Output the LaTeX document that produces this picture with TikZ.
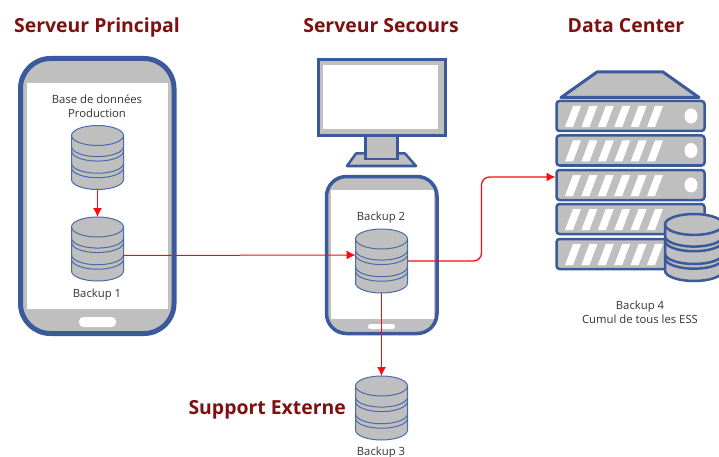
\documentclass[tikz,border=0pt]{standalone}
\usepackage{fontspec}
\setmainfont{Open Sans}
\usetikzlibrary{arrows.meta,calc}
\definecolor{frameblue}{HTML}{3A5A9B}
\definecolor{dbline}{HTML}{4A6AA8}
\definecolor{fillgray}{HTML}{BFBFBF}
\definecolor{titlered}{HTML}{7F1010}
\definecolor{linkred}{HTML}{FF0A14}
\definecolor{txt}{HTML}{333333}
\tikzset{
  x=1pt,y=-1pt,
  title/.style={font=\fontsize{19.4}{22}\selectfont\bfseries,text=titlered,inner sep=0pt,anchor=base},
  lbl/.style={font=\fontsize{11.3}{14}\selectfont,text=txt,inner sep=0pt,align=center,anchor=base},
  frame/.style={draw=frameblue,fill=fillgray},
  whitebox/.style={fill=white,draw=none},
  anchorbox/.style={minimum width=#1,inner sep=0pt,outer sep=0pt,draw=none},
  link/.style={draw=linkred,line width=1.3pt,-{Latex[length=9pt,width=9pt]}},
  rackunit/.style={frame,line width=2.5pt,rounded corners=3pt,minimum width=148pt,minimum height=30pt,inner sep=0pt,outer sep=1pt},
}
% #1 name, #2 centre x, #3 top y, #4 half width, #5 line width, #6 height, #7 colour
\newcommand{\dbcyl}[7]{%
  \begin{scope}[shift={(#2,#3)},line width=#5,draw=#7,fill=fillgray]
    \pgfmathsetmacro{\rw}{#4}\pgfmathsetmacro{\h}{#6}\pgfmathsetmacro{\ry}{\h*0.156}
    \filldraw (-\rw,\ry) -- (-\rw,\h-\ry) arc[start angle=180,end angle=360,x radius=\rw pt,y radius=\ry pt] -- (\rw,\ry) arc[start angle=0,end angle=180,x radius=\rw pt,y radius=\ry pt] -- cycle;
    \draw (-\rw,\ry) arc[start angle=180,end angle=360,x radius=\rw pt,y radius=\ry pt];
    \foreach \yy in {0.33,0.40,0.59,0.66}{
      \draw (-\rw,\h*\yy) arc[start angle=180,end angle=360,x radius=\rw pt,y radius=\ry pt];
    }
  \end{scope}
  \node[anchorbox=2*#4*1pt,minimum height=#6*1pt] (#1) at (#2,#3+#6/2) {};
}
\newcommand{\stripes}[1]{%
  \foreach \i in {0,...,5}{
    \fill[white] (565+16.4*\i,#1+26) -- (573+16.4*\i,#1+26) -- (581+16.4*\i,#1+5) -- (573+16.4*\i,#1+5) -- cycle;
  }
}
\begin{document}
\begin{tikzpicture}
\useasboundingbox (0,0) rectangle (719,457);
\clip (0,0) rectangle (719,457);
\fill[white] (0,0) rectangle (719,457);

% titles
\node[title] (t1) at (97,33) {Serveur Principal};
\node[title] (t2) at (381,33) {Serveur Secours};
\node[title] (t3) at (626,33) {Data Center};
\node[title,anchor=base east] (t4) at (346,414) {Support Externe};

% principal phone
\draw[frame,line width=5pt,rounded corners=30pt] (20.5,58.5) rectangle (174,333.5);
\fill[whitebox] (27,83) rectangle (168,309);
\fill[white,rounded corners=4.5pt] (79,317) rectangle (116,327);

% monitor
\draw[frame,line width=2.5pt,line join=round] (347,166) -- (356,153.5) -- (405,153.5) -- (416,166) -- cycle;
\draw[frame,line width=2.5pt] (365.5,135) rectangle (397.5,159);
\draw[frame,line width=3pt] (318.5,60) rectangle (445,135.5);
\fill[whitebox] (323,65) rectangle (438,129);

% secondary phone
\draw[frame,line width=3.5pt,rounded corners=20pt] (326.5,176.5) rectangle (437,333.5);
\fill[whitebox] (331,190) rectangle (434,319);
\fill[white,rounded corners=2.5pt] (368,324) rectangle (395,329);

% rack
\draw[frame,line width=3pt,line join=round] (561,97.5) -- (597,72) -- (663,72) -- (699,97.5) -- cycle;
\foreach \n/\yc in {r1/116,r2/150.5,r3/185,r4/219,r5/254}{
  \node[rackunit] (\n) at (630.5,\yc) {};
}
\foreach \t in {101,135.5,170,204,239}{\stripes{\t}}
\foreach \yc in {116,150.5,185}{\fill[white] (691,\yc) ellipse (6.5pt and 7.5pt);}

% databases
\dbcyl{db0}{97.5}{125.5}{26}{1pt}{64}{dbline}
\dbcyl{db1}{97.5}{217}{26}{1pt}{64}{dbline}
\dbcyl{db2}{381.5}{229}{26}{1pt}{64}{dbline}
\dbcyl{db3}{381.5}{376}{26}{1pt}{64}{dbline}
\dbcyl{db4}{694}{214}{29}{2.5pt}{67}{frameblue}

% labels
\node[lbl] (l0a) at (97,104) {Base de données};
\node[lbl] (l0b) at (97,118) {Production};
\node[lbl] (l1) at (97,297) {Backup 1};
\node[lbl] (l2) at (381,220) {Backup 2};
\node[lbl] (l3) at (381,455) {Backup 3};
\node[lbl] (l4a) at (640,309) {Backup 4};
\node[lbl] (l4b) at (640,323) {Cumul de tous les ESS};

% links
\draw[link] (db0.south) -- (db1.north);
\draw[link,line width=1pt] ($(db1.east)+(0,6.5)$) -- ($(db2.west)+(0,-6)$);
\draw[link,rounded corners=8pt] (db2.east) -- ++(74,0) |- ($(r3.west)+(0,-8)$);
\draw[link] (db2.south) -- (db3.north);
\end{tikzpicture}
\end{document}
